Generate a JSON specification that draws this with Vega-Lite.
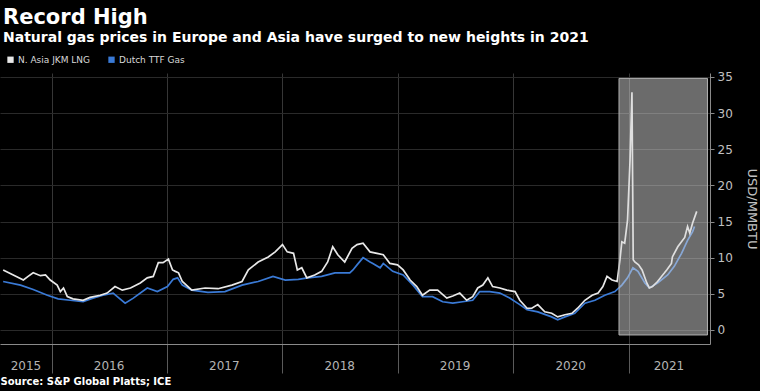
{
  "$schema": "https://vega.github.io/schema/vega-lite/v6.json",
  "width": 710,
  "height": 271,
  "autosize": {"type": "none"},
  "padding": {"left": 0, "top": 73, "right": 50, "bottom": 47},
  "background": "#000000",
  "title": {
    "text": "Record High",
    "subtitle": "Natural gas prices in Europe and Asia have surged to new heights in 2021",
    "anchor": "start",
    "frame": "group",
    "font": "DejaVu Sans",
    "fontSize": 21,
    "fontWeight": "bold",
    "color": "#ffffff",
    "subtitleFont": "DejaVu Sans",
    "subtitleFontSize": 14,
    "subtitleFontWeight": "bold",
    "subtitleColor": "#ffffff",
    "subtitlePadding": 3,
    "offset": 10,
    "dx": 3
  },
  "config": {"view": {"stroke": null}},
  "datasets": {
    "jkm": [
      {"d": "2015-08-01", "v": 8.3}, {"d": "2015-09-02", "v": 7.6}, {"d": "2015-10-04", "v": 6.9}, {"d": "2015-10-19", "v": 7.4},
      {"d": "2015-11-04", "v": 7.9}, {"d": "2015-11-27", "v": 7.5}, {"d": "2015-12-13", "v": 7.6}, {"d": "2015-12-28", "v": 6.9},
      {"d": "2016-01-19", "v": 6.2}, {"d": "2016-01-29", "v": 5.3}, {"d": "2016-02-08", "v": 5.8}, {"d": "2016-02-20", "v": 4.6},
      {"d": "2016-03-09", "v": 4.3}, {"d": "2016-04-10", "v": 4.1}, {"d": "2016-05-02", "v": 4.5}, {"d": "2016-06-03", "v": 4.8},
      {"d": "2016-06-25", "v": 5.1}, {"d": "2016-07-20", "v": 6.0}, {"d": "2016-08-12", "v": 5.5}, {"d": "2016-09-07", "v": 5.8},
      {"d": "2016-10-08", "v": 6.5}, {"d": "2016-10-30", "v": 7.2}, {"d": "2016-11-18", "v": 7.4}, {"d": "2016-12-04", "v": 9.3},
      {"d": "2016-12-19", "v": 9.3}, {"d": "2017-01-05", "v": 9.8}, {"d": "2017-01-18", "v": 8.3}, {"d": "2017-01-27", "v": 8.1},
      {"d": "2017-02-06", "v": 7.9}, {"d": "2017-02-18", "v": 6.7}, {"d": "2017-03-20", "v": 5.5}, {"d": "2017-05-01", "v": 5.8},
      {"d": "2017-06-11", "v": 5.7}, {"d": "2017-07-25", "v": 6.2}, {"d": "2017-08-26", "v": 6.7}, {"d": "2017-09-15", "v": 8.3},
      {"d": "2017-10-16", "v": 9.4}, {"d": "2017-11-17", "v": 10.1}, {"d": "2017-12-09", "v": 10.8}, {"d": "2018-01-01", "v": 11.8},
      {"d": "2018-01-16", "v": 10.8}, {"d": "2018-02-05", "v": 10.6}, {"d": "2018-02-17", "v": 8.3}, {"d": "2018-03-03", "v": 8.6},
      {"d": "2018-03-19", "v": 7.2}, {"d": "2018-04-13", "v": 7.6}, {"d": "2018-05-05", "v": 8.1}, {"d": "2018-05-24", "v": 9.4},
      {"d": "2018-06-09", "v": 11.5}, {"d": "2018-06-25", "v": 10.4}, {"d": "2018-07-17", "v": 9.4}, {"d": "2018-08-09", "v": 11.3},
      {"d": "2018-08-25", "v": 11.8}, {"d": "2018-09-13", "v": 12.0}, {"d": "2018-10-05", "v": 10.8}, {"d": "2018-10-27", "v": 10.6},
      {"d": "2018-11-16", "v": 10.4}, {"d": "2018-12-07", "v": 9.2}, {"d": "2018-12-31", "v": 9.0}, {"d": "2019-01-18", "v": 8.3},
      {"d": "2019-02-09", "v": 6.9}, {"d": "2019-03-02", "v": 6.0}, {"d": "2019-03-20", "v": 4.8}, {"d": "2019-04-12", "v": 5.5},
      {"d": "2019-05-07", "v": 5.5}, {"d": "2019-06-05", "v": 4.4}, {"d": "2019-06-24", "v": 4.7}, {"d": "2019-07-16", "v": 5.1},
      {"d": "2019-08-07", "v": 4.1}, {"d": "2019-08-26", "v": 4.6}, {"d": "2019-09-11", "v": 5.8}, {"d": "2019-09-27", "v": 6.2},
      {"d": "2019-10-13", "v": 7.2}, {"d": "2019-10-28", "v": 6.0}, {"d": "2019-11-20", "v": 5.8}, {"d": "2019-12-12", "v": 5.5},
      {"d": "2020-01-07", "v": 5.3}, {"d": "2020-01-22", "v": 4.1}, {"d": "2020-02-14", "v": 3.0}, {"d": "2020-02-29", "v": 3.0},
      {"d": "2020-03-19", "v": 3.5}, {"d": "2020-04-10", "v": 2.5}, {"d": "2020-05-02", "v": 2.3}, {"d": "2020-05-21", "v": 1.8},
      {"d": "2020-06-13", "v": 2.1}, {"d": "2020-07-05", "v": 2.3}, {"d": "2020-07-23", "v": 3.0}, {"d": "2020-08-15", "v": 4.1},
      {"d": "2020-09-07", "v": 4.8}, {"d": "2020-09-26", "v": 5.1}, {"d": "2020-10-11", "v": 6.0}, {"d": "2020-10-24", "v": 7.4},
      {"d": "2020-11-09", "v": 6.9}, {"d": "2020-11-25", "v": 6.7}, {"d": "2020-12-04", "v": 9.7}, {"d": "2020-12-10", "v": 12.2},
      {"d": "2020-12-19", "v": 12.0}, {"d": "2020-12-28", "v": 15.2}, {"d": "2021-01-05", "v": 23.5}, {"d": "2021-01-11", "v": 32.9},
      {"d": "2021-01-15", "v": 9.7}, {"d": "2021-01-20", "v": 9.4}, {"d": "2021-02-01", "v": 9.0}, {"d": "2021-02-12", "v": 8.3},
      {"d": "2021-02-27", "v": 6.5}, {"d": "2021-03-07", "v": 5.8}, {"d": "2021-03-17", "v": 6.0}, {"d": "2021-04-02", "v": 6.7},
      {"d": "2021-04-24", "v": 7.9}, {"d": "2021-05-01", "v": 8.3}, {"d": "2021-05-16", "v": 9.2}, {"d": "2021-05-19", "v": 10.1},
      {"d": "2021-06-05", "v": 11.5}, {"d": "2021-06-27", "v": 12.8}, {"d": "2021-07-06", "v": 14.3}, {"d": "2021-07-13", "v": 13.4},
      {"d": "2021-07-22", "v": 14.8}, {"d": "2021-08-04", "v": 16.4}
    ],
    "ttf": [
      {"d": "2015-08-01", "v": 6.7}, {"d": "2015-09-25", "v": 6.2}, {"d": "2015-11-04", "v": 5.6}, {"d": "2015-12-19", "v": 4.8},
      {"d": "2016-01-22", "v": 4.3}, {"d": "2016-02-29", "v": 4.1}, {"d": "2016-04-10", "v": 3.9}, {"d": "2016-05-11", "v": 4.4},
      {"d": "2016-06-12", "v": 4.8}, {"d": "2016-07-14", "v": 5.1}, {"d": "2016-08-21", "v": 3.7}, {"d": "2016-09-16", "v": 4.4},
      {"d": "2016-10-30", "v": 5.8}, {"d": "2016-12-01", "v": 5.3}, {"d": "2017-01-02", "v": 6.0}, {"d": "2017-01-20", "v": 7.0},
      {"d": "2017-02-03", "v": 7.2}, {"d": "2017-02-18", "v": 6.2}, {"d": "2017-03-20", "v": 5.5}, {"d": "2017-05-10", "v": 5.2},
      {"d": "2017-07-03", "v": 5.3}, {"d": "2017-08-26", "v": 6.2}, {"d": "2017-10-16", "v": 6.7}, {"d": "2017-12-02", "v": 7.4},
      {"d": "2018-01-10", "v": 6.9}, {"d": "2018-02-20", "v": 7.0}, {"d": "2018-03-22", "v": 7.2}, {"d": "2018-05-05", "v": 7.4},
      {"d": "2018-06-16", "v": 7.9}, {"d": "2018-07-17", "v": 7.9}, {"d": "2018-08-02", "v": 7.9}, {"d": "2018-08-12", "v": 8.3},
      {"d": "2018-08-25", "v": 9.0}, {"d": "2018-09-13", "v": 10.0}, {"d": "2018-10-05", "v": 9.4}, {"d": "2018-10-14", "v": 9.2},
      {"d": "2018-11-06", "v": 8.6}, {"d": "2018-11-16", "v": 9.2}, {"d": "2018-12-16", "v": 8.1}, {"d": "2019-01-18", "v": 7.6},
      {"d": "2019-02-18", "v": 6.2}, {"d": "2019-03-20", "v": 4.6}, {"d": "2019-04-21", "v": 4.6}, {"d": "2019-05-23", "v": 3.9},
      {"d": "2019-06-24", "v": 3.7}, {"d": "2019-07-25", "v": 3.9}, {"d": "2019-08-26", "v": 4.1}, {"d": "2019-09-17", "v": 5.3},
      {"d": "2019-10-19", "v": 5.3}, {"d": "2019-11-20", "v": 5.1}, {"d": "2019-12-21", "v": 4.4}, {"d": "2020-01-22", "v": 3.5},
      {"d": "2020-02-14", "v": 2.8}, {"d": "2020-03-19", "v": 2.5}, {"d": "2020-05-02", "v": 1.8}, {"d": "2020-05-21", "v": 1.4},
      {"d": "2020-06-13", "v": 1.8}, {"d": "2020-07-14", "v": 2.3}, {"d": "2020-08-15", "v": 3.7}, {"d": "2020-09-16", "v": 4.1},
      {"d": "2020-10-17", "v": 4.8}, {"d": "2020-11-18", "v": 5.3}, {"d": "2020-12-10", "v": 6.2}, {"d": "2020-12-28", "v": 7.2},
      {"d": "2021-01-14", "v": 8.6}, {"d": "2021-01-30", "v": 8.1}, {"d": "2021-02-21", "v": 6.5}, {"d": "2021-03-07", "v": 5.8},
      {"d": "2021-04-02", "v": 6.5}, {"d": "2021-05-04", "v": 7.6}, {"d": "2021-05-25", "v": 8.8}, {"d": "2021-06-17", "v": 10.6},
      {"d": "2021-07-06", "v": 12.4}, {"d": "2021-07-22", "v": 13.6}, {"d": "2021-07-28", "v": 14.3}
    ],
    "box": [{"d": "2020-12-01", "e": "2021-09-07", "v": -0.7, "hi": 34.8}],
    "years": [
      {"d": "2015-10-12", "yr": "2015"}, {"d": "2016-07-01", "yr": "2016"}, {"d": "2017-07-01", "yr": "2017"},
      {"d": "2018-07-01", "yr": "2018"}, {"d": "2019-07-01", "yr": "2019"}, {"d": "2020-07-01", "yr": "2020"},
      {"d": "2021-05-08", "yr": "2021"}
    ]
  },
  "encoding": {
    "x": {
      "field": "d", "type": "temporal",
      "scale": {"domain": [{"year": 2015, "month": 7, "date": 22}, {"year": 2021, "month": 9, "date": 15}]},
      "axis": {
        "values": [
          {"year": 2016, "month": 1, "date": 1}, {"year": 2017, "month": 1, "date": 1}, {"year": 2018, "month": 1, "date": 1},
          {"year": 2019, "month": 1, "date": 1}, {"year": 2020, "month": 1, "date": 1}, {"year": 2021, "month": 1, "date": 1}
        ],
        "grid": true, "gridColor": "#363636", "gridWidth": 1,
        "labels": false, "tickSize": 29, "tickColor": "#5a5a5a",
        "domainColor": "#8a8a8a",
        "title": "Source: S&P Global Platts; ICE",
        "titleAnchor": "start", "titleAlign": "left",
        "titleFont": "DejaVu Sans", "titleFontSize": 10, "titleFontWeight": "bold",
        "titleColor": "#ffffff", "titlePadding": 3
      }
    }
  },
  "resolve": {"scale": {"y": "independent"}, "axis": {"y": "independent"}},
  "layer": [
    {
      "encoding": {
        "y": {
          "field": "v", "type": "quantitative",
          "scale": {"domain": [-1.95, 35.55], "nice": false, "zero": false},
          "axis": {
            "orient": "right",
            "values": [0, 5, 10, 15, 20, 25, 30, 35],
            "labelOverlap": false,
            "grid": true, "gridColor": "#2a2a2a",
            "domainColor": "#8a8a8a", "tickColor": "#8a8a8a", "tickSize": 4,
            "labelColor": "#c0c0c0", "labelFont": "DejaVu Sans", "labelFontSize": 12, "labelPadding": 3,
            "title": "USD/MMBTU", "titleColor": "#c0c0c0", "titleFont": "DejaVu Sans",
            "titleFontSize": 13, "titleFontWeight": "normal", "titlePadding": 12
          }
        }
      },
      "layer": [
        {
          "data": {"name": "ttf"},
          "mark": {"type": "line", "strokeWidth": 1.7},
          "encoding": {
            "color": {
              "datum": "Dutch TTF Gas",
              "scale": {"domain": ["N. Asia JKM LNG", "Dutch TTF Gas"], "range": ["#e8e8e8", "#3a7ad6"]},
              "legend": {
                "orient": "none", "legendX": 6, "legendY": -18, "direction": "horizontal", "title": null,
                "symbolType": "square", "symbolSize": 40, "symbolStrokeWidth": 0,
                "labelFont": "DejaVu Sans", "labelFontSize": 9, "labelColor": "#d8d8d8", "labelOffset": 3,
                "columnPadding": 16,
                "encode": {"symbols": {"update": {"fill": {"scale": "color", "field": "value"}, "fillOpacity": {"value": 1}}}}
              }
            }
          }
        },
        {
          "data": {"name": "jkm"},
          "mark": {"type": "line", "strokeWidth": 1.7},
          "encoding": {
            "color": {"datum": "N. Asia JKM LNG"}
          }
        },
        {
          "data": {"name": "box"},
          "mark": {"type": "rect", "fill": "#d6d6d6", "fillOpacity": 0.5, "stroke": "#b0b0b0", "strokeWidth": 1},
          "encoding": {
            "x2": {"field": "e"},
            "y2": {"field": "hi"}
          }
        }
      ]
    },
    {
      "data": {"name": "years"},
      "mark": {"type": "text", "font": "DejaVu Sans", "fontSize": 12, "color": "#b4b4b4", "baseline": "middle", "align": "center"},
      "encoding": {
        "y": {"datum": -5, "type": "quantitative", "scale": {"domain": [-1.95, 35.55], "nice": false, "zero": false}, "axis": null},
        "text": {"field": "yr"}
      }
    }
  ]
}
